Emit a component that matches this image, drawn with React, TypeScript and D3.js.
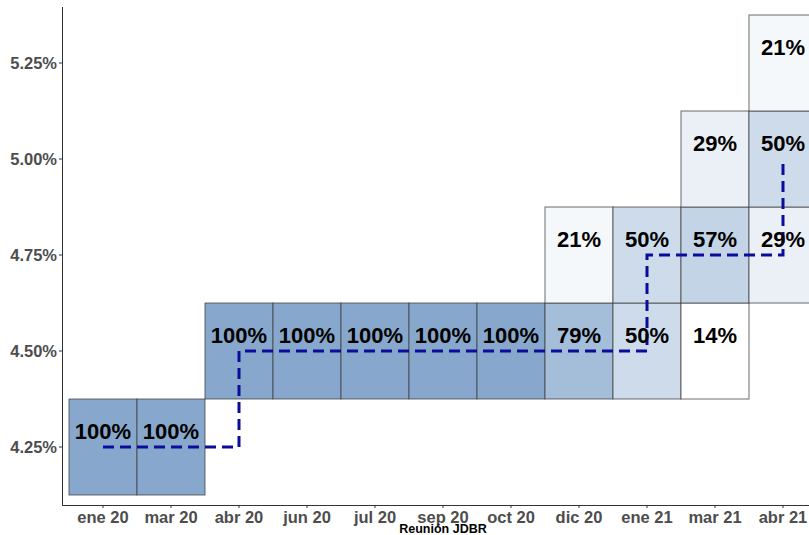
import React from "react";
import * as d3 from "d3";

const meetings = ["ene 20","mar 20","abr 20","jun 20","jul 20","sep 20","oct 20","dic 20","ene 21","mar 21","abr 21"];
const tileMeeting = ["ene 20","mar 20","abr 20","jun 20","jul 20","sep 20","oct 20","dic 20","dic 20","ene 21","ene 21","mar 21","mar 21","mar 21","abr 21","abr 21","abr 21"];
const tileRate = [4.25,4.25,4.5,4.5,4.5,4.5,4.5,4.5,4.75,4.5,4.75,4.5,4.75,5.0,4.75,5.0,5.25];
const tileShare = [100,100,100,100,100,100,100,79,21,50,50,14,57,29,29,50,21];
const expectedRate = [4.25,4.25,4.5,4.5,4.5,4.5,4.5,4.5,4.75,4.75,5.0];
const yTicks = [4.25,4.5,4.75,5.0,5.25];

export default function App() {
  const W = 809, H = 535;
  const panelLeft = 62, panelRight = 824, panelTop = 7, panelBottom = 505;
  const x = d3.scaleBand().domain(meetings).range([69, 817]).padding(0);
  const y = d3.scaleLinear().domain([4.25, 5.25]).range([447, 63]);
  const color = d3.scaleLinear<string>().domain([14, 100]).range(["#ffffff", "#87a8cc"]).interpolate(d3.interpolateRgb);
  const bw = x.bandwidth();
  const th = y(4.25) - y(4.5);
  const line = d3.line<number>()
    .x((_, i) => x(meetings[i])! + bw / 2)
    .y((d) => y(d))
    .curve(d3.curveStepAfter);
  return (
    <svg width={W} height={H} style={{ position: "absolute", left: 0, top: 0, fontFamily: "'Liberation Sans', Arial, sans-serif" }}>
      <rect x={0} y={0} width={W} height={H} fill="#fff" />
      {tileShare.map((s, i) => {
        const cx = x(tileMeeting[i])!;
        const cy = y(tileRate[i]);
        return (
          <rect key={"t" + i} x={cx} y={cy - th / 2} width={bw} height={th}
            fill={color(s)} stroke="#3c3c3c" strokeOpacity={0.75} strokeWidth={1} />
        );
      })}
      <path d={line(expectedRate) || ""} fill="none" stroke="#0c0c9a" strokeWidth={3} strokeDasharray="11,6" />
      {tileShare.map((s, i) => {
        const cx = x(tileMeeting[i])! + bw / 2;
        const cy = y(tileRate[i]);
        return (
          <text key={"l" + i} x={cx} y={cy - 8} textAnchor="middle" fontSize={22} fontWeight="bold" fill="#000">{s + "%"}</text>
        );
      })}
      {/* axes */}
      <line x1={panelLeft + 0.5} x2={panelLeft + 0.5} y1={panelTop} y2={panelBottom} stroke="#333" strokeWidth={1} />
      <line x1={panelLeft} x2={panelRight} y1={panelBottom + 0.5} y2={panelBottom + 0.5} stroke="#333" strokeWidth={1} />
      {yTicks.map((t) => (
        <g key={"y" + t}>
          <line x1={panelLeft - 3} x2={panelLeft} y1={y(t)} y2={y(t)} stroke="#333" />
          <text x={panelLeft - 5} y={y(t)} dy="0.35em" textAnchor="end" fontSize={16.5} fontWeight="bold" fill="#4d4d4d">{t.toFixed(2) + "%"}</text>
        </g>
      ))}
      {meetings.map((m) => (
        <g key={"x" + m}>
          <line x1={x(m)! + bw / 2} x2={x(m)! + bw / 2} y1={panelBottom} y2={panelBottom + 3} stroke="#333" />
          <text x={x(m)! + bw / 2} y={panelBottom + 18} textAnchor="middle" fontSize={16.5} fontWeight="bold" fill="#4d4d4d">{m}</text>
        </g>
      ))}
      <text x={(panelLeft + panelRight) / 2} y={533} textAnchor="middle" fontSize={12.5} fontWeight="bold" fill="#000">Reunión JDBR</text>
    </svg>
  );
}
